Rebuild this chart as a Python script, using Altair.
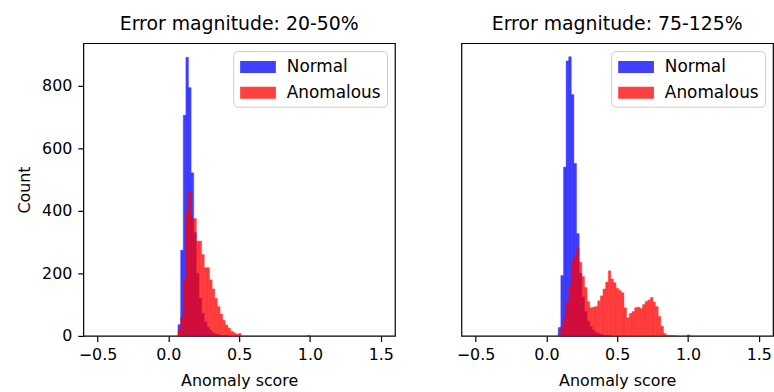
import altair as alt
import numpy as np
import pandas as pd

# ---------------- data ----------------
panel_titles = ["Error magnitude: 20-50%", "Error magnitude: 75-125%"]
series_names = ["Normal", "Anomalous"]
series_colors = ["#0000ff", "#ff0000"]
# histogram bin range (50 equal bins) per panel
bin_lo = [0.068, 0.083]
bin_hi = [0.998, 1.013]
n_bins = 50

left_normal = [36, 274, 705, 890, 793, 521, 330, 200, 120, 72,
               45, 28, 17, 10, 6, 4, 2, 1, 1, 0,
               0, 0, 0, 0, 0, 0, 0, 0, 0, 0,
               0, 0, 0, 0, 0, 0, 0, 0, 0, 0,
               0, 0, 0, 0, 0, 0, 0, 0, 0, 1]
left_anomalous = [20, 60, 180, 396, 461, 375, 375, 303, 303, 260,
                  218, 218, 179, 150, 120, 94, 70, 50, 35, 25,
                  15, 10, 6, 8, 0, 0, 0, 0, 0, 0,
                  0, 0, 0, 0, 0, 0, 0, 0, 0, 0,
                  0, 0, 0, 0, 0, 0, 0, 0, 0, 2]
right_normal = [27, 193, 539, 878, 892, 771, 551, 327, 200, 125,
                78, 48, 30, 18, 11, 7, 4, 2, 1, 1,
                0, 0, 0, 0, 0, 0, 0, 0, 0, 0,
                0, 0, 0, 0, 0, 0, 0, 0, 0, 0,
                0, 0, 0, 0, 0, 0, 0, 0, 0, 3]
right_anomalous = [5, 30, 60, 110, 158, 237, 253, 282, 235, 190,
                   155, 110, 90, 92, 94, 112, 128, 150, 172, 208,
                   182, 170, 152, 145, 138, 90, 58, 72, 78, 90,
                   92, 88, 100, 110, 115, 123, 108, 94, 62, 31,
                   8, 3, 2, 1, 1, 0, 0, 0, 0, 2]

x_ticks = [-0.5, 0.0, 0.5, 1.0, 1.5]
y_ticks = [0, 200, 400, 600, 800]
x_domain = [-0.6, 1.6]
y_domain = [0, 935]

FONT = "DejaVu Sans"


def panel_df(lo, hi, normal, anomalous):
    edges = np.linspace(lo, hi, n_bins + 1)
    rows = []
    for name, counts in zip(series_names, [normal, anomalous]):
        for k, c in enumerate(counts):
            rows.append({"series": name, "start": edges[k], "end": edges[k + 1], "count": c})
    return pd.DataFrame(rows)


def panel(df, title, show_y):
    legend = alt.Legend(
        orient="top-right", title=None, offset=8, padding=6,
        fillColor="white", strokeColor="#cccccc", cornerRadius=4,
        labelFont=FONT, labelFontSize=17, labelColor="black",
        labelExpr="datum.label + '\u2002'",
        symbolType="M-1.8,-0.6H1.8V0.6H-1.8Z", symbolSize=400,
        symbolOffset=9, symbolStrokeWidth=0, symbolOpacity=0.75,
        labelOffset=19, rowPadding=8,
    )
    if show_y:
        y_axis = alt.Axis(values=y_ticks, title="Count", grid=False, domain=False,
                          tickSize=5.6, tickWidth=1.2, tickColor="black",
                          labelPadding=6, titlePadding=9)
    else:
        y_axis = None
    color_scale = alt.Scale(domain=series_names, range=series_colors)
    base = alt.Chart(df).mark_rect(opacity=0.75, strokeWidth=0.4).encode(
        x=alt.X("start:Q", scale=alt.Scale(domain=x_domain, nice=False, zero=False),
                axis=alt.Axis(values=x_ticks, format=".1f", title="Anomaly score",
                              grid=False, domain=False, tickSize=5.6, tickWidth=1.2,
                              tickColor="black", labelPadding=5, titlePadding=10)),
        x2="end:Q",
        y=alt.Y("count:Q", scale=alt.Scale(domain=y_domain, nice=False), axis=y_axis),
        y2=alt.datum(0),
        color=alt.Color("series:N", scale=color_scale, legend=legend),
        stroke=alt.Stroke("series:N", scale=color_scale, legend=None),
    )
    layers = [
        base.transform_filter((alt.datum.series == s) & (alt.datum.count > 0))
        for s in series_names
    ]
    return alt.layer(*layers).properties(width=314, height=295, title=title)


left = panel(panel_df(bin_lo[0], bin_hi[0], left_normal, left_anomalous), panel_titles[0], True)
right = panel(panel_df(bin_lo[1], bin_hi[1], right_normal, right_anomalous), panel_titles[1], False)

chart = (
    alt.hconcat(left, right, spacing=60)
    .resolve_scale(color="independent", stroke="independent")
    .properties(padding={"left": 16, "top": 13, "right": 0, "bottom": 0}, background="white")
    .configure_view(stroke="black", strokeWidth=1.2)
    .configure_axis(labelFont=FONT, titleFont=FONT, labelFontSize=16, titleFontSize=16,
                    labelColor="black", titleColor="black", titleFontWeight="normal")
    .configure_title(font=FONT, fontSize=19, fontWeight="normal", anchor="middle",
                     offset=9, color="black")
)

chart.save("out.html", embed_options={"renderer": "svg", "actions": False})
